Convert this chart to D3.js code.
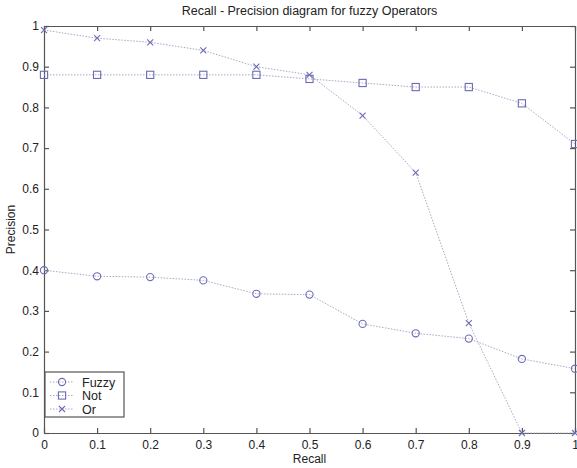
<!DOCTYPE html>
<html>
<head>
<meta charset="utf-8">
<script src="https://cdn.jsdelivr.net/npm/d3@7"></script>
<style>
  body { margin: 0; background: #fff; }
  text { font-family: "Liberation Sans", Arial, sans-serif; fill: #222; }
</style>
</head>
<body>
<div id="chart"></div>
<script>
/* recall levels on the x axis */
var recall = [0, 0.1, 0.2, 0.3, 0.4, 0.5, 0.6, 0.7, 0.8, 0.9, 1];

/* precision values */
var fuzzy = [0.40, 0.385, 0.383, 0.375, 0.342, 0.340, 0.268, 0.245, 0.232, 0.182, 0.158];
var not   = [0.88, 0.88, 0.88, 0.88, 0.88, 0.87, 0.86, 0.85, 0.85, 0.81, 0.71];
var or    = [0.99, 0.97, 0.96, 0.94, 0.90, 0.88, 0.78, 0.64, 0.27, 0.00, 0.00];

var xTicks = [0, 0.1, 0.2, 0.3, 0.4, 0.5, 0.6, 0.7, 0.8, 0.9, 1];
var yTicks = [0, 0.1, 0.2, 0.3, 0.4, 0.5, 0.6, 0.7, 0.8, 0.9, 1];

var series = [
  {name: "Fuzzy", values: fuzzy, marker: "circle"},
  {name: "Not", values: not, marker: "square"},
  {name: "Or", values: or, marker: "cross"}
];

var W = 577, H = 468;
var margin = {top: 26, right: 2, bottom: 35, left: 44};
var width = W - margin.left - margin.right,
    height = H - margin.top - margin.bottom;

var svg = d3.select("#chart").append("svg")
  .attr("width", W).attr("height", H);

var g = svg.append("g")
  .attr("transform", "translate(" + margin.left + "," + margin.top + ")");

var x = d3.scaleLinear().domain([0, 1]).range([0, width]);
var y = d3.scaleLinear().domain([0, 1]).range([height, 0]);

var axisCol = "#555";
var fmt = function(d) { return d === 0 || d === 1 ? String(d) : d.toFixed(1); };

/* matlab style: ticks point inwards on all four sides */
var axBottom = g.append("g").attr("transform", "translate(0," + height + ")")
  .call(d3.axisBottom(x).tickValues(xTicks).tickFormat(fmt).tickSizeInner(-5).tickSizeOuter(0).tickPadding(7));
var axLeft = g.append("g")
  .call(d3.axisLeft(y).tickValues(yTicks).tickFormat(fmt).tickSizeInner(-5).tickSizeOuter(0).tickPadding(5));
var axTop = g.append("g")
  .call(d3.axisTop(x).tickValues(xTicks).tickFormat("").tickSizeInner(-5).tickSizeOuter(0));
var axRight = g.append("g").attr("transform", "translate(" + width + ",0)")
  .call(d3.axisRight(y).tickValues(yTicks).tickFormat("").tickSizeInner(-5).tickSizeOuter(0));

[axBottom, axLeft, axTop, axRight].forEach(function(a) {
  a.selectAll("path, line").attr("stroke", axisCol).attr("stroke-width", 1.2);
  a.selectAll("text").style("font-size", "12px").attr("fill", "#222");
});

var lineCol = "#a8a8c8", markCol = "#6c6cb6";

var line = d3.line()
  .x(function(d, i) { return x(recall[i]); })
  .y(function(d) { return y(d); });

function drawMarker(sel, type, cx, cy) {
  if (type === "circle") {
    sel.append("circle").attr("cx", cx).attr("cy", cy).attr("r", 3.6)
      .attr("fill", "none").attr("stroke", markCol).attr("stroke-width", 1.1);
  } else if (type === "square") {
    sel.append("rect").attr("x", cx - 3.6).attr("y", cy - 3.6).attr("width", 7.2).attr("height", 7.2)
      .attr("fill", "none").attr("stroke", markCol).attr("stroke-width", 1.1);
  } else {
    sel.append("path")
      .attr("d", "M" + (cx - 3) + "," + (cy - 3) + "L" + (cx + 3) + "," + (cy + 3) +
                 "M" + (cx - 3) + "," + (cy + 3) + "L" + (cx + 3) + "," + (cy - 3))
      .attr("stroke", markCol).attr("stroke-width", 1.1);
  }
}

series.forEach(function(s) {
  g.append("path")
    .datum(s.values)
    .attr("d", line)
    .attr("fill", "none")
    .attr("stroke", lineCol)
    .attr("stroke-width", 1)
    .attr("stroke-dasharray", "1.5,1.5");
  var mg = g.append("g");
  s.values.forEach(function(v, i) {
    drawMarker(mg, s.marker, x(recall[i]), y(v));
  });
});

/* legend */
var leg = g.append("g").attr("transform", "translate(1," + (height - 61) + ")");
leg.append("rect").attr("width", 79).attr("height", 45)
  .attr("fill", "#fff").attr("stroke", axisCol).attr("stroke-width", 1.2);
series.forEach(function(s, i) {
  var ly = 10 + i * 13.5;
  leg.append("line").attr("x1", 5).attr("x2", 29).attr("y1", ly).attr("y2", ly)
    .attr("stroke", lineCol).attr("stroke-dasharray", "1.5,1.5");
  drawMarker(leg, s.marker, 17, ly);
  leg.append("text").attr("x", 37).attr("y", ly + 4.5)
    .style("font-size", "12.5px").text(s.name);
});

/* titles */
svg.append("text").attr("x", margin.left + width / 2).attr("y", 15)
  .attr("text-anchor", "middle").style("font-size", "12.5px")
  .text("Recall - Precision diagram for fuzzy Operators");
svg.append("text").attr("x", margin.left + width / 2).attr("y", 463)
  .attr("text-anchor", "middle").style("font-size", "12px").text("Recall");
svg.append("text")
  .attr("transform", "translate(15," + (margin.top + height / 2) + ") rotate(-90)")
  .attr("text-anchor", "middle").style("font-size", "12px").text("Precision");
</script>
</body>
</html>
